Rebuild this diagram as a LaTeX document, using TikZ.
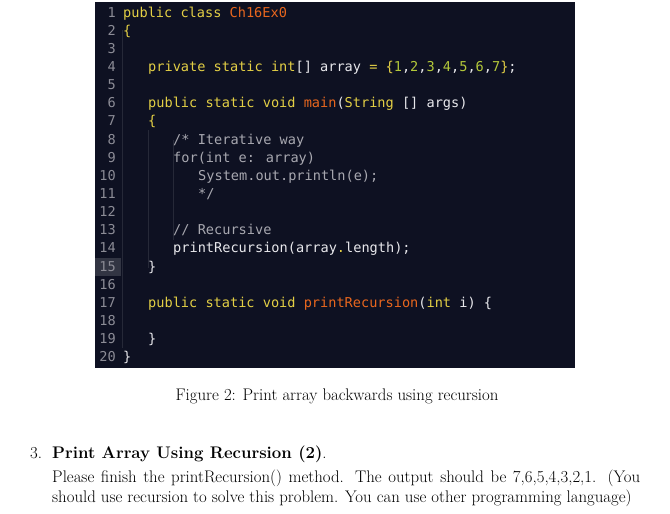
\documentclass[tikz,border=0pt]{standalone}
\usepackage{fontspec}
\newfontfamily\codefont{DejaVu Sans Mono}
\definecolor{codebg}{HTML}{0E1122}
\definecolor{kwc}{HTML}{E3CF45}
\definecolor{fnc}{HTML}{E8661E}
\definecolor{numc}{HTML}{B3C83A}
\definecolor{cmc}{HTML}{A8A8B0}
\definecolor{lnc}{HTML}{8C8C96}
\definecolor{txc}{HTML}{E8E8EC}
\newcommand{\kw}[1]{\textcolor{kwc}{#1}}
\newcommand{\fn}[1]{\textcolor{fnc}{#1}}
\newcommand{\nm}[1]{\textcolor{numc}{#1}}
\begin{document}
\begin{tikzpicture}[x=1pt,y=-1pt,
  code/.style={anchor=base west,inner sep=0pt,font=\codefont\fontsize{13.6}{16}\selectfont,text=txc},
  lnum/.style={anchor=base east,inner sep=0pt,font=\codefont\fontsize{13.6}{16}\selectfont,text=lnc},
  body/.style={inner sep=0pt,font=\fontsize{16.8}{20}\selectfont}]
\useasboundingbox (0,0) rectangle (670,514);
\fill[codebg] (95,2) rectangle (575,368);
\fill[white!15!codebg] (95,258) rectangle (121,276);
\foreach \gx/\ya/\yb in {122/30/348, 148/130/268, 173/140/240}
  \draw[white!10!codebg, line width=0.6pt] (\gx,\ya) -- (\gx,\yb);
\foreach \k in {1,...,20}
  \node[lnum] (ln\k) at (116,{17+(\k-1)*18.15}) {\k};
\def\L#1{{17+(#1-1)*18.15}}
\node[code] (c1) at (123,\L{1}) {\kw{public class} \fn{Ch16Ex0}};
\node[code] (c2) at (123,\L{2}) {\kw{\{}};
\node[code] (c4) at (148,\L{4}) {\kw{private static int}[] array \kw{=} \kw{\{}\nm{1},\nm{2},\nm{3},\nm{4},\nm{5},\nm{6},\nm{7}\kw{\}};};
\node[code] (c6) at (148,\L{6}) {\kw{public static void} \fn{main}(\kw{String} [] args)};
\node[code] (c7) at (148,\L{7}) {\kw{\{}};
\node[code,text=cmc] (c8) at (173,\L{8}) {/* Iterative way};
\node[code,text=cmc] (c9) at (173,\L{9}) {for(int e: array)};
\node[code,text=cmc] (c10) at (198,\L{10}) {System.out.println(e);};
\node[code,text=cmc] (c11) at (198,\L{11}) {*/};
\node[code,text=cmc] (c13) at (173,\L{13}) {// Recursive};
\node[code] (c14) at (173,\L{14}) {printRecursion(array\kw{.}length);};
\node[code] (c15) at (148,\L{15}) {\}};
\node[code] (c17) at (148,\L{17}) {\kw{public static void} \fn{printRecursion}(\kw{int} i) \{};
\node[code] (c19) at (148,\L{19}) {\}};
\node[code] (c20) at (123,\L{20}) {\}};
\node[body,anchor=base] (cap) at (337,400) {Figure 2: Print array backwards using recursion};
\node[body,anchor=base west] (num) at (30,458) {3.};
\node[body,anchor=base west] (head) at (52,458) {\textbf{Print Array Using Recursion (2)}.};
\node[body,anchor=north west,text width=588pt,align=justify] (para) at (52,470)
  {Please finish the printRecursion() method. The output should be 7,6,5,4,3,2,1. (You should use recursion to solve this problem. You can use other programming language)};
\end{tikzpicture}
\end{document}
